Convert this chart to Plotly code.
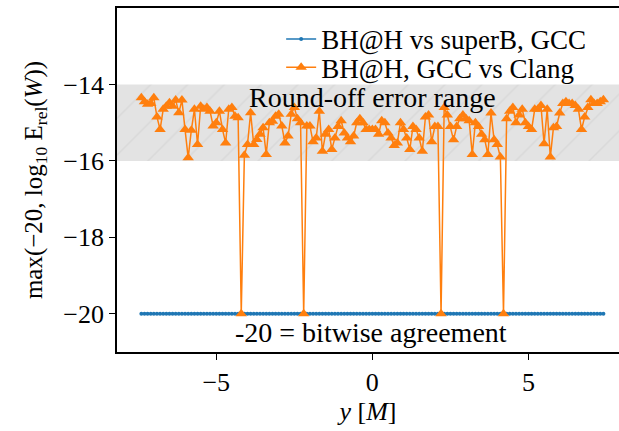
import plotly.graph_objects as go

# ---------------- data ----------------
y_grid = [round(-7.4 + 0.1 * i, 1) for i in range(149)]  # sample positions y [M]

superb_gcc = [-20.0] * 149  # BH@H vs superB, GCC (bitwise agreement everywhere)

gcc_clang = [
    -14.35, -14.45, -14.52, -14.50, -14.35, -14.85, -15.18, -14.65, -14.57, -14.48,
    -14.57, -14.41, -14.74, -14.41, -15.18, -15.92, -15.20, -14.65, -15.57, -14.57,
    -14.65, -14.60, -14.70, -15.09, -15.00, -14.70, -15.18, -15.53, -14.65, -14.60,
    -14.83, -14.87, -20.00, -15.85, -15.57, -14.74, -15.57, -15.44, -15.30, -15.13,
    -15.83, -15.00, -14.96, -14.83, -14.78, -15.09, -15.53, -15.35, -14.78, -14.60,
    -14.90, -15.00, -20.00, -15.09, -15.09, -15.50, -15.40, -14.70, -15.75, -15.30,
    -15.18, -15.70, -15.40, -15.10, -14.95, -15.27, -15.40, -15.50, -15.35, -15.00,
    -14.90, -15.00, -15.18, -15.18, -15.18, -15.18, -15.30, -14.95, -15.00, -15.27,
    -15.40, -15.60, -15.53, -15.00, -15.18, -15.40, -15.70, -15.10, -15.18, -15.40,
    -15.75, -14.85, -14.80, -15.50, -15.10, -15.10, -20.00, -14.60, -14.80, -15.10,
    -15.45, -15.10, -14.90, -14.80, -14.90, -14.95, -15.83, -15.00, -15.10, -15.30,
    -15.45, -15.83, -14.75, -15.45, -15.57, -15.90, -20.00, -14.90, -14.70, -14.60,
    -15.00, -14.80, -14.65, -15.00, -15.10, -15.18, -14.65, -14.65, -14.55, -15.55,
    -14.65, -15.90, -15.13, -15.10, -14.75, -14.50, -14.45, -14.50, -14.50, -14.55,
    -14.65, -15.18, -14.85, -14.60, -14.40, -14.50, -14.50, -14.45, -14.40,
]

band_low, band_high = -16.0, -14.0
x_range = [-8.18, 7.9]
y_range = [-21.0, -12.0]
x_ticks = [-5, 0, 5]
y_ticks = [-20, -18, -16, -14]

FONT = "Liberation Serif"
BLUE = "#1f77b4"
ORANGE = "#ff7f0e"

fig = go.Figure()

# round-off error band (hatched)
fig.add_trace(go.Scatter(
    x=[x_range[0], x_range[1], x_range[1], x_range[0], x_range[0]],
    y=[band_low, band_low, band_high, band_high, band_low],
    mode="lines", line=dict(width=0), fill="toself",
    fillcolor="#e3e3e3",
    fillpattern=dict(shape="/", bgcolor="#e3e3e3", fgcolor="#cfcfcf",
                     size=26, solidity=0.06),
    showlegend=False, hoverinfo="skip",
))

fig.add_trace(go.Scatter(
    x=y_grid, y=superb_gcc, mode="lines+markers",
    name="BH@H vs superB, GCC", legend="legend",
    line=dict(color=BLUE, width=1.5),
    marker=dict(symbol="circle", size=4, color=BLUE),
))

fig.add_trace(go.Scatter(
    x=y_grid, y=gcc_clang, mode="lines+markers",
    name="BH@H, GCC vs Clang", legend="legend2",
    line=dict(color=ORANGE, width=1.5),
    marker=dict(symbol="triangle-up", size=10, color=ORANGE),
))

fig.add_annotation(x=0, y=-14.34, text="Round-off error range", showarrow=False,
                   font=dict(family=FONT, size=28, color="black"),
                   xanchor="center", yanchor="middle")
fig.add_annotation(x=-0.05, y=-20.5, text="-20 = bitwise agreement", showarrow=False,
                   font=dict(family=FONT, size=28, color="black"),
                   xanchor="center", yanchor="middle")

legend_common = dict(x=0.327, xanchor="left", yanchor="top",
                     bgcolor="rgba(0,0,0,0)", font=dict(family=FONT, size=27),
                     itemwidth=30)

fig.update_layout(
    width=619, height=431,
    margin=dict(l=117, r=0, t=8, b=79),
    paper_bgcolor="white", plot_bgcolor="white",
    font=dict(family=FONT, size=26, color="black"),
    showlegend=True,
    legend=dict(y=0.980, **legend_common),
    legend2=dict(y=0.898, **legend_common),
)

fig.update_xaxes(
    range=x_range, tickvals=x_ticks, ticktext=["−5", "0", "5"],
    showgrid=False, zeroline=False,
    showline=True, linecolor="black", linewidth=1.6, mirror=True,
    ticks="outside", ticklen=6, tickwidth=1.4, tickcolor="black",
    title=dict(text="<i>y</i> [<i>M</i>]", standoff=6, font=dict(size=26)),
)
fig.update_yaxes(
    range=y_range, tickvals=y_ticks, ticktext=["−20", "−18", "−16", "−14"],
    showgrid=False, zeroline=False,
    showline=True, linecolor="black", linewidth=1.6,
    ticks="outside", ticklen=6, tickwidth=1.4, tickcolor="black",
    title=dict(text="max(−20, log<sub>10</sub> E<sub>rel</sub>(<i>W</i>))",
               standoff=14, font=dict(size=25)),
)

fig.write_html("out.html")
